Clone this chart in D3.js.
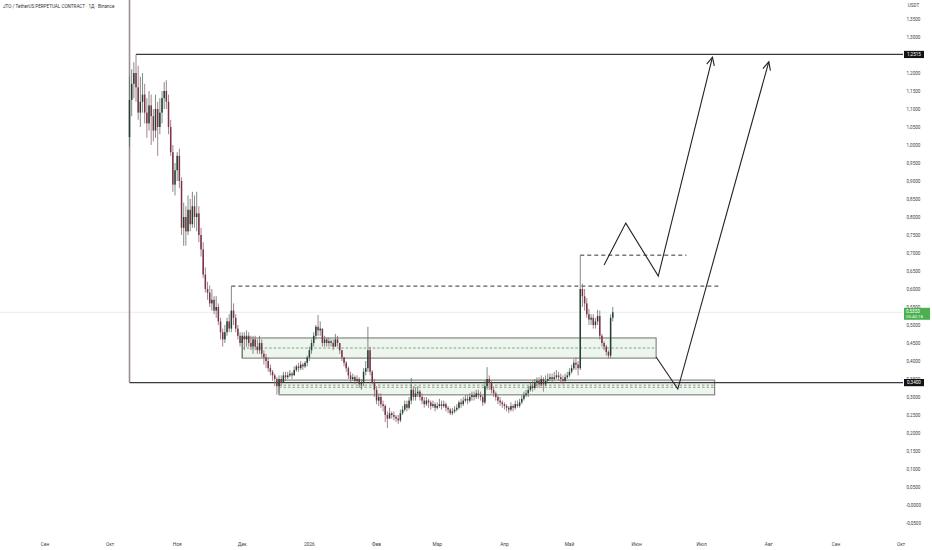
<!DOCTYPE html>
<html><head><meta charset="utf-8">
<script src="https://cdn.jsdelivr.net/npm/d3@7"></script>
<style>html,body{margin:0;padding:0;background:#fff;}svg{display:block;font-family:Roboto,"Noto Sans",sans-serif;}</style>
</head><body>
<svg id="c" width="932" height="550"></svg>
<script>
// ---------- DATA ----------
const firstDay = "2025-10-10";
const opens = [1.022,1.125,1.17,1.20,1.16,1.09,1.12,1.14,1.09,1.06,1.11,1.08,1.04,1.10,1.05,1.09,1.13,1.15,1.12,1.05,0.98,0.89,0.93,0.97,0.90,0.77,0.80,0.76,0.82,0.78,0.83,0.80,0.81,0.75,0.71,0.64,0.60,0.59,0.56,0.57,0.54,0.55,0.51,0.48,0.46,0.48,0.51,0.49,0.54,0.52,0.49,0.47,0.45,
0.47,0.46,0.47,0.45,0.44,0.46,0.44,0.43,0.45,0.42,0.41,0.40,0.38,0.37,0.36,0.35,0.33,0.35,0.34,0.36,0.355,0.36,0.365,0.36,0.375,0.385,0.38,0.39,0.385,0.395,0.41,0.43,0.45,0.47,0.495,0.485,0.49,0.45,0.46,0.45,0.455,0.45,0.44,0.46,0.45,0.43,0.41,0.395,0.38,0.36,0.35,0.355,0.345,0.35,0.335,0.34,0.37,0.38,0.43,0.37,0.34,0.32,0.29,0.30,0.28,0.275,0.25,0.24,0.255,0.25,0.245,0.24,0.235,0.255,0.265,0.28,0.27,0.29,0.32,0.30,0.31,0.315,0.30,0.29,0.28,0.29,0.285,0.275,0.28,0.27,0.275,0.28,0.275,0.28,0.27,0.265,0.255,0.26,0.265,0.27,0.285,0.28,0.29,0.295,0.29,0.30,0.305,0.30,0.31,0.305,0.30,0.285,0.33,0.35,0.34,0.32,0.31,0.30,0.29,0.285,0.28,0.275,0.27,0.265,0.275,0.27,0.28,0.275,0.285,0.295,0.305,0.31,0.32,0.33,0.325,0.34,0.345,0.335,0.35,0.335,0.345,0.35,0.355,0.35,0.355,0.36,0.355,0.35,0.345,0.355,0.36,0.37,0.38,0.395,0.39,0.38,0.60,0.58,0.56,0.53,0.515,0.52,0.50,0.51,0.525,0.47,0.45,0.44,0.425,0.415,0.52];
const highs = [1.19,1.21,1.23,1.2515,1.22,1.19,1.20,1.17,1.13,1.15,1.14,1.10,1.14,1.12,1.13,1.15,1.175,1.18,1.14,1.07,1.00,0.95,0.98,0.99,0.91,0.84,0.83,0.86,0.85,0.87,0.86,0.87,0.83,0.77,0.73,0.66,0.62,0.61,0.60,0.58,0.58,0.56,0.52,0.49,0.50,0.52,0.53,0.608,0.56,0.53,0.50,0.48,0.48,
0.48,0.485,0.48,0.47,0.47,0.47,0.46,0.47,0.46,0.43,0.42,0.41,0.39,0.375,0.365,0.355,0.36,0.36,0.37,0.37,0.37,0.375,0.37,0.385,0.39,0.395,0.40,0.395,0.40,0.415,0.44,0.46,0.48,0.50,0.528,0.51,0.49,0.47,0.465,0.465,0.46,0.46,0.475,0.47,0.45,0.43,0.41,0.40,0.385,0.37,0.365,0.36,0.36,0.355,0.35,0.38,0.40,0.495,0.44,0.375,0.35,0.33,0.31,0.31,0.29,0.28,0.26,0.27,0.26,0.26,0.25,0.25,0.265,0.275,0.29,0.29,0.30,0.353,0.33,0.325,0.33,0.32,0.31,0.30,0.30,0.295,0.29,0.29,0.285,0.285,0.295,0.29,0.29,0.285,0.275,0.27,0.27,0.275,0.28,0.29,0.295,0.30,0.305,0.305,0.31,0.315,0.315,0.32,0.32,0.315,0.305,0.345,0.383,0.36,0.345,0.33,0.315,0.305,0.30,0.29,0.285,0.28,0.275,0.285,0.28,0.29,0.29,0.295,0.305,0.315,0.32,0.33,0.34,0.345,0.35,0.355,0.355,0.36,0.355,0.36,0.365,0.365,0.365,0.37,0.375,0.37,0.365,0.36,0.365,0.37,0.38,0.39,0.405,0.41,0.40,0.694,0.615,0.60,0.575,0.545,0.53,0.53,0.52,0.542,0.54,0.475,0.455,0.445,0.43,0.53,0.55];
const lows = [0.994,1.08,1.13,1.12,1.07,1.05,1.09,1.06,1.02,1.04,1.00,1.01,1.02,0.97,1.03,1.06,1.10,1.10,1.03,0.97,0.87,0.86,0.90,0.88,0.75,0.72,0.72,0.75,0.76,0.77,0.77,0.76,0.73,0.69,0.63,0.59,0.57,0.55,0.54,0.53,0.52,0.50,0.46,0.44,0.45,0.47,0.48,0.48,0.50,0.48,0.46,0.44,0.408,
0.43,0.44,0.44,0.43,0.42,0.43,0.42,0.42,0.41,0.39,0.38,0.37,0.36,0.345,0.33,0.306,0.31,0.33,0.34,0.345,0.35,0.355,0.35,0.36,0.37,0.37,0.375,0.375,0.38,0.385,0.40,0.42,0.44,0.46,0.47,0.47,0.44,0.44,0.44,0.44,0.44,0.43,0.44,0.44,0.42,0.40,0.385,0.37,0.35,0.34,0.345,0.335,0.34,0.325,0.32,0.33,0.36,0.37,0.36,0.335,0.30,0.28,0.275,0.27,0.26,0.23,0.214,0.24,0.24,0.235,0.23,0.225,0.23,0.25,0.26,0.26,0.265,0.28,0.29,0.29,0.30,0.29,0.28,0.27,0.275,0.27,0.265,0.27,0.26,0.265,0.27,0.265,0.27,0.26,0.255,0.25,0.25,0.255,0.26,0.265,0.27,0.275,0.285,0.28,0.285,0.29,0.29,0.295,0.295,0.29,0.275,0.28,0.32,0.32,0.31,0.30,0.29,0.28,0.275,0.27,0.265,0.26,0.255,0.26,0.26,0.265,0.27,0.27,0.28,0.29,0.30,0.30,0.315,0.315,0.32,0.33,0.325,0.33,0.315,0.33,0.34,0.345,0.34,0.345,0.35,0.345,0.34,0.335,0.34,0.35,0.355,0.365,0.375,0.375,0.36,0.375,0.55,0.54,0.52,0.50,0.50,0.49,0.49,0.50,0.46,0.44,0.43,0.415,0.408,0.408,0.51];
const closes = [1.125,1.17,1.20,1.16,1.09,1.12,1.14,1.09,1.06,1.11,1.08,1.04,1.10,1.05,1.09,1.13,1.15,1.12,1.05,0.98,0.89,0.93,0.97,0.90,0.77,0.80,0.76,0.82,0.78,0.83,0.80,0.81,0.75,0.71,0.64,0.60,0.59,0.56,0.57,0.54,0.55,0.51,0.48,0.46,0.48,0.51,0.49,0.54,0.52,0.49,0.47,0.45,0.47,
0.46,0.47,0.45,0.44,0.46,0.44,0.43,0.45,0.42,0.41,0.40,0.38,0.37,0.36,0.35,0.33,0.35,0.34,0.36,0.355,0.36,0.365,0.36,0.375,0.385,0.38,0.39,0.385,0.395,0.41,0.43,0.45,0.47,0.495,0.485,0.49,0.45,0.46,0.45,0.455,0.45,0.44,0.46,0.45,0.43,0.41,0.395,0.38,0.36,0.35,0.355,0.345,0.35,0.335,0.34,0.37,0.38,0.43,0.37,0.34,0.32,0.29,0.30,0.28,0.275,0.25,0.24,0.255,0.25,0.245,0.24,0.235,0.255,0.265,0.28,0.27,0.29,0.32,0.30,0.31,0.315,0.30,0.29,0.28,0.29,0.285,0.275,0.28,0.27,0.275,0.28,0.275,0.28,0.27,0.265,0.255,0.26,0.265,0.27,0.285,0.28,0.29,0.295,0.29,0.30,0.305,0.30,0.31,0.305,0.30,0.285,0.33,0.35,0.34,0.32,0.31,0.30,0.29,0.285,0.28,0.275,0.27,0.265,0.275,0.27,0.28,0.275,0.285,0.295,0.305,0.31,0.32,0.33,0.325,0.34,0.345,0.335,0.35,0.335,0.345,0.35,0.355,0.35,0.355,0.36,0.355,0.35,0.345,0.355,0.36,0.37,0.38,0.395,0.39,0.38,0.60,0.58,0.56,0.53,0.515,0.52,0.50,0.51,0.525,0.47,0.45,0.44,0.425,0.415,0.52,0.5353];

const monthTicks = ["2025-09-01","2025-10-01","2025-11-01","2025-12-01","2026-01-01","2026-02-01","2026-03-01","2026-04-01","2026-05-01","2026-06-01","2026-07-01","2026-08-01","2026-09-01","2026-10-01"];
const monthLabels = ["Сен","Окт","Ноя","Дек","2026","Фев","Мар","Апр","Май","Июн","Июл","Авг","Сен","Окт"];
const priceTicks = [-0.05,0,0.05,0.1,0.15,0.2,0.25,0.3,0.35,0.4,0.45,0.5,0.55,0.6,0.65,0.7,0.75,0.8,0.85,0.9,0.95,1.0,1.05,1.1,1.15,1.2,1.25,1.3,1.35];
const priceTickLabels = ["-0,0500","-0,0000","0,0500","0,1000","0,1500","0,2000","0,2500","0,3000","0,3500","0,4000","0,4500","0,5000","0,5500","0,6000","0,6500","0,7000","0,7500","0,8000","0,8500","0,9000","0,9500","1,0000","1,0500","1,1000","1,1500","1,2000","1,2500","1,3000","1,3500"];

// drawings
const solidLevels = [{start:"2025-10-13", price:1.2515, label:"1,2515"},{start:"2025-10-10", price:0.34, label:"0,3400"}];
const dashedLevels = [{start:"2025-11-26", end:"2026-07-10", price:0.608},{start:"2026-05-06", end:"2026-06-24", price:0.694}];
const zones = [{start:"2025-12-01", end:"2026-06-10", low:0.408, high:0.464, mids:[0.436]},
               {start:"2025-12-18", end:"2026-07-07", low:0.306, high:0.347, mids:[0.333,0.327]}];
const arrowA = [["2026-05-17",0.667],["2026-05-27",0.783],["2026-06-11",0.636],["2026-07-06",1.244]];
const arrowB = [["2026-06-10",0.411],["2026-06-20",0.322],["2026-08-01",1.231]];
const titleText = "JTO / TetherUS PERPETUAL CONTRACT · 1Д · Binance";
const lastPriceLabel = "0,5353";
const countdown = "05:40:18";

// ---------- CHART ----------
const svg = d3.select("#c");
const W = 932, H = 550;
const x = d3.scaleUtc().domain([new Date("2025-09-01"), new Date("2026-10-01")]).range([45, 901]);
const y = d3.scaleLinear().domain([0, 1.35]).range([505, 19]);
const plotRight = 903;
const d0 = new Date(firstDay);
const candles = closes.map((c,i)=>({date:d3.utcDay.offset(d0,i), o:opens[i], h:highs[i], l:lows[i], c}));

// current price line
svg.append("line").attr("x1",0).attr("x2",plotRight).attr("y1",y(closes[closes.length-1])).attr("y2",y(closes[closes.length-1]))
  .attr("stroke","#e6e6e6").attr("stroke-width",0.8);

// zones
zones.forEach(z=>{
  svg.append("rect").attr("x",x(new Date(z.start))).attr("y",y(z.high))
    .attr("width",x(new Date(z.end))-x(new Date(z.start))).attr("height",y(z.low)-y(z.high))
    .attr("fill","#eaf5ea").attr("fill-opacity",0.85).attr("stroke","#7d7d7d").attr("stroke-width",1.1);
  z.mids.forEach(m=>{
    svg.append("line").attr("x1",x(new Date(z.start))).attr("x2",x(new Date(z.end))).attr("y1",y(m)).attr("y2",y(m))
      .attr("stroke","#6a6a6a").attr("stroke-width",0.7).attr("stroke-dasharray","2.5,2");
  });
});

// vertical line at start
svg.append("line").attr("x1",x(d0)).attr("x2",x(d0)).attr("y1",0).attr("y2",y(0.34))
  .attr("stroke","#9a8d94").attr("stroke-width",1.6);

// solid levels
solidLevels.forEach(s=>{
  svg.append("line").attr("x1",x(new Date(s.start))).attr("x2",plotRight).attr("y1",y(s.price)).attr("y2",y(s.price))
    .attr("stroke","#3a3a3a").attr("stroke-width",1.3);
});

// dashed levels with wick connector
dashedLevels.forEach(d=>{
  svg.append("line").attr("x1",x(new Date(d.start))).attr("x2",x(new Date(d.end))).attr("y1",y(d.price)).attr("y2",y(d.price))
    .attr("stroke","#333").attr("stroke-width",1).attr("stroke-dasharray","4,3");
});

// candles
const g = svg.append("g");
candles.forEach(k=>{
  const cx = x(k.date);
  const up = k.c >= k.o;
  g.append("line").attr("x1",cx).attr("x2",cx).attr("y1",y(k.h)).attr("y2",y(k.l))
    .attr("stroke", up ? "#5f6f66" : "#8a6470").attr("stroke-width",0.8);
  const top = y(Math.max(k.o,k.c)), bot = y(Math.min(k.o,k.c));
  g.append("rect").attr("x",cx-0.75).attr("width",1.5).attr("y",top).attr("height",Math.max(0.8,bot-top))
    .attr("fill", up ? "#24412f" : "#7a3346");
});

// arrows
const line = d3.line().x(d=>x(new Date(d[0]))).y(d=>y(d[1]));
[arrowA, arrowB].forEach(a=>{
  svg.append("path").attr("d",line(a)).attr("fill","none").attr("stroke","#222").attr("stroke-width",1.1);
  const p1 = a[a.length-2], p2 = a[a.length-1];
  const x1 = x(new Date(p1[0])), y1 = y(p1[1]), x2 = x(new Date(p2[0])), y2 = y(p2[1]);
  const ang = Math.atan2(y1-y2, x1-x2), L = 9, sp = 0.45;
  const pts = [[x2+L*Math.cos(ang+sp), y2+L*Math.sin(ang+sp)],[x2,y2],[x2+L*Math.cos(ang-sp), y2+L*Math.sin(ang-sp)]];
  svg.append("path").attr("d",d3.line()(pts)).attr("fill","none").attr("stroke","#222").attr("stroke-width",1.1);
});

// right axis labels
const ax = svg.append("g").attr("font-size",4.6).attr("fill","#444");
priceTicks.forEach((v,i)=>{
  ax.append("text").attr("x",913.5).attr("y",y(v)).attr("dy","0.35em").attr("text-anchor","middle").text(priceTickLabels[i]);
});
svg.append("text").attr("x",913.5).attr("y",7).attr("text-anchor","middle").attr("font-size",4.6).attr("fill","#444").text("USDT");

// level labels
solidLevels.forEach(s=>{
  svg.append("rect").attr("x",904).attr("y",y(s.price)-3.6).attr("width",20).attr("height",7.2).attr("fill","#131313");
  svg.append("text").attr("x",914).attr("y",y(s.price)).attr("dy","0.35em").attr("text-anchor","middle")
    .attr("font-size",4.6).attr("fill","#fff").text(s.label);
});
// last price label
const ly = y(closes[closes.length-1]);
svg.append("rect").attr("x",904).attr("y",ly-4.5).attr("width",26).attr("height",12).attr("fill","#4caf50");
svg.append("text").attr("x",906).attr("y",ly-0.5).attr("dy","0.35em").attr("font-size",4.6).attr("fill","#fff").text(lastPriceLabel);
svg.append("text").attr("x",906).attr("y",ly+4.5).attr("dy","0.35em").attr("font-size",4.4).attr("fill","#e8ffe8").text(countdown);

// bottom axis
const bx = svg.append("g").attr("font-size",4.8).attr("fill","#444");
monthTicks.forEach((m,i)=>{
  bx.append("text").attr("x",x(new Date(m))).attr("y",544).attr("dy","0.35em").attr("text-anchor","middle").text(monthLabels[i]);
});

// title
svg.append("text").attr("x",3).attr("y",6).attr("dy","0.35em").attr("font-size",4.6).attr("fill","#333").text(titleText);
</script>
</body></html>
